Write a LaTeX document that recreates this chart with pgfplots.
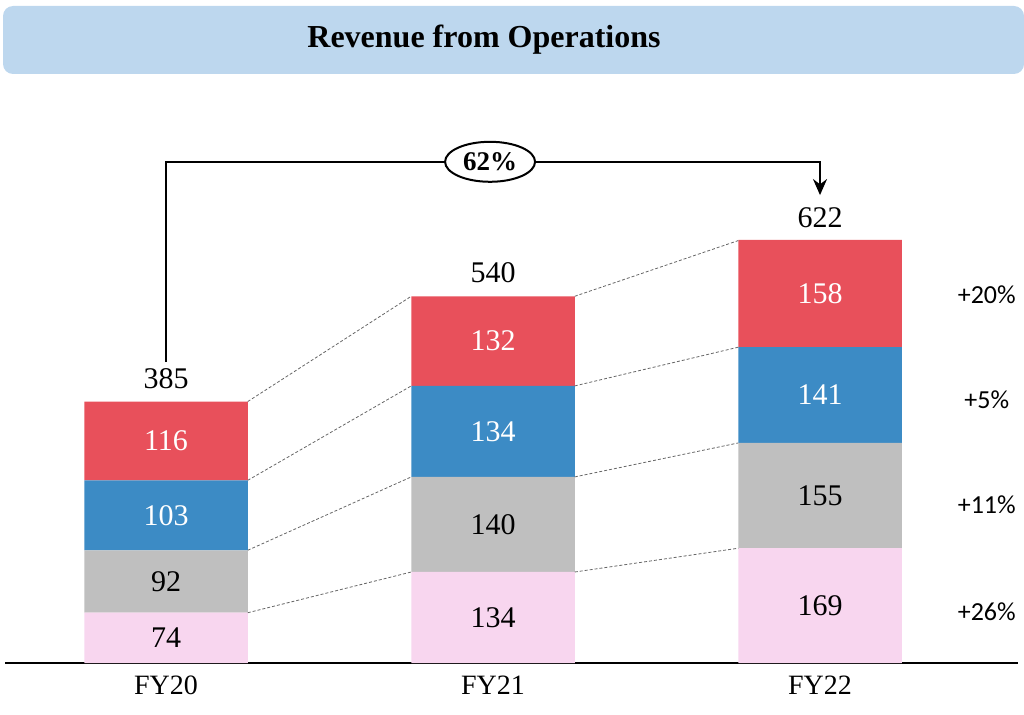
\documentclass[border=0pt]{standalone}
\usepackage{fontspec}
\setmainfont{Liberation Serif}
\newfontfamily\calfont{Carlito}
\usepackage{pgfplots}
\pgfplotsset{compat=1.18}
\usetikzlibrary{shapes.geometric,arrows.meta}
\definecolor{cred}{HTML}{E8505B}
\definecolor{cblue}{HTML}{3C8BC5}
\definecolor{cgray}{HTML}{BFBFBF}
\definecolor{cpink}{HTML}{F8D6EF}
\definecolor{ctitle}{HTML}{BDD7EE}
\begin{document}
\begin{tikzpicture}
\fill[ctitle, rounded corners=5pt] (1.5pt,320pt) rectangle (512pt,354pt);
\node[font=\fontsize{16}{18}\selectfont\bfseries] at (242pt,337pt) {Revenue from Operations};
\begin{axis}[at={(2.5pt,25.5pt)}, anchor=south west, scale only axis,
  width=506.5pt, height=281.5pt,
  xmin=-0.4924, xmax=2.6055, ymin=0, ymax=829,
  ybar stacked, bar width=0.5,
  axis x line*=bottom, axis y line=none,
  x axis line style={-, line width=1pt},
  xtick={0,1,2}, xticklabels={FY20,FY21,FY22},
  major tick length=0pt,
  xticklabel style={font=\fontsize{14}{16}\selectfont, yshift=-3pt},
  clip=false]
\addplot[fill=cpink, draw=none] coordinates {(0,74) (1,134) (2,169)};
\addplot[fill=cgray, draw=none] coordinates {(0,92) (1,140) (2,155)};
\addplot[fill=cblue, draw=none] coordinates {(0,103) (1,134) (2,141)};
\addplot[fill=cred, draw=none] coordinates {(0,116) (1,132) (2,158)};
\end{axis}
\begin{axis}[at={(2.5pt,25.5pt)}, anchor=south west, scale only axis,
  width=506.5pt, height=281.5pt,
  xmin=-0.4924, xmax=2.6055, ymin=0, ymax=829,
  hide axis, clip=false]
\tikzset{conn/.style={black!60, line width=0.4pt, dash pattern=on 1.5pt off 1pt}}
\addplot[conn] coordinates {(0.25,74) (0.75,134)};
\addplot[conn] coordinates {(0.25,166) (0.75,274)};
\addplot[conn] coordinates {(0.25,269) (0.75,408)};
\addplot[conn] coordinates {(0.25,385) (0.75,540)};
\addplot[conn] coordinates {(1.25,134) (1.75,169)};
\addplot[conn] coordinates {(1.25,274) (1.75,324)};
\addplot[conn] coordinates {(1.25,408) (1.75,465)};
\addplot[conn] coordinates {(1.25,540) (1.75,622)};
% value labels
\tikzset{val/.style={font=\fontsize{15}{17}\selectfont}}
\node[val] at (axis cs:0,37) {74};
\node[val] at (axis cs:0,120) {92};
\node[val,white] at (axis cs:0,217.5) {103};
\node[val,white] at (axis cs:0,327) {116};
\node[val] at (axis cs:1,67) {134};
\node[val] at (axis cs:1,204) {140};
\node[val,white] at (axis cs:1,341) {134};
\node[val,white] at (axis cs:1,474) {132};
\node[val] at (axis cs:2,84.5) {169};
\node[val] at (axis cs:2,246.5) {155};
\node[val,white] at (axis cs:2,394.5) {141};
\node[val,white] at (axis cs:2,544) {158};
\node[val] at (axis cs:0,418) {385};
\node[val] at (axis cs:1,575) {540};
\node[val] at (axis cs:2,655) {622};
% growth labels
\tikzset{gr/.style={font=\calfont\fontsize{13}{15}\selectfont}}
\node[gr] at (axis cs:2.51,542) {+20\%};
\node[gr] at (axis cs:2.51,387) {+5\%};
\node[gr] at (axis cs:2.51,233) {+11\%};
\node[gr] at (axis cs:2.51,75) {+26\%};
% bracket
\draw[line width=1pt, -{Stealth[length=8pt,width=7pt]}] (axis cs:0,443) |- (axis cs:2,738) -- (axis cs:2,689);
\node[ellipse, draw, line width=1pt, fill=white, minimum width=45pt, minimum height=20pt, inner sep=1pt, font=\fontsize{13.5}{15}\selectfont\bfseries] at (axis cs:0.991,738) {62\%};
\end{axis}
\pgfresetboundingbox
\path (0,0) rectangle (512pt,357pt);
\end{tikzpicture}
\end{document}
